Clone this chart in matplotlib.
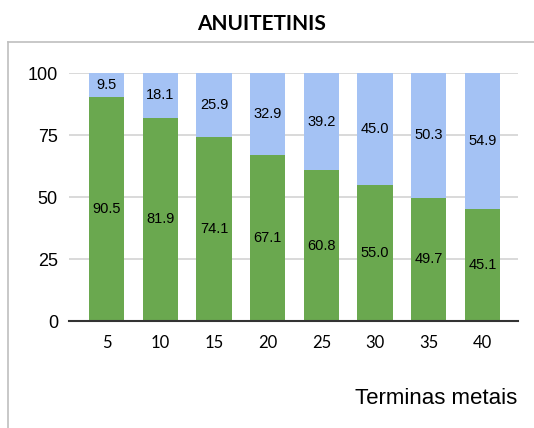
import numpy as np
import matplotlib
matplotlib.use("Agg")
import matplotlib.pyplot as plt
from matplotlib.lines import Line2D

terms = ["5", "10", "15", "20", "25", "30", "35", "40"]
principal = [90.5, 81.9, 74.1, 67.1, 60.8, 55.0, 49.7, 45.1]
interest = [9.5, 18.1, 25.9, 32.9, 39.2, 45.0, 50.3, 54.9]
y_ticks = [0, 25, 50, 75, 100]

green = "#6aa84f"
blue = "#a4c2f4"

fig = plt.figure(figsize=(5.34, 4.28), dpi=100)
ax = fig.add_axes([69 / 534, 1 - 321 / 428, (518 - 69) / 534, (321 - 73) / 428])

x = np.arange(len(terms))
w = 0.657
b1 = ax.bar(x, principal, width=w, color=green, zorder=2)
b2 = ax.bar(x, interest, width=w, bottom=principal, color=blue, zorder=2)

for rect, v in zip(b1, principal):
    ax.text(rect.get_x() + rect.get_width() / 2, v / 2, f"{v:.1f}",
            ha="center", va="center", fontsize=10.5, family="Liberation Sans", zorder=3)
for rect, v, b in zip(b2, interest, principal):
    ax.text(rect.get_x() + rect.get_width() / 2, b + v / 2, f"{v:.1f}",
            ha="center", va="center", fontsize=10.5, family="Liberation Sans", zorder=3)

ax.set_xlim(-0.70, len(terms) - 1 + 0.66)
ax.set_ylim(0, 100)
ax.set_yticks(y_ticks)
ax.set_yticklabels([str(t) for t in y_ticks], family="Liberation Sans", fontsize=13)
ax.set_xticks(x)
ax.set_xticklabels(terms, family="Lato", fontsize=12)
ax.tick_params(axis="y", length=0, pad=8)
ax.tick_params(axis="x", length=0, pad=10)
ax.yaxis.grid(True, color="#d3d3d3", linewidth=1.2, zorder=0)
ax.set_axisbelow(True)
for s in ["top", "right", "left"]:
    ax.spines[s].set_visible(False)
ax.spines["bottom"].set_color("#333333")
ax.spines["bottom"].set_linewidth(1.5)
ax.spines["bottom"].set_zorder(4)

fig.text(262 / 534, 1 - 24 / 428, "ANUITETINIS", ha="center", va="center",
         fontsize=15, fontweight="bold", family="Lato")
fig.text(517 / 534, 1 - 398 / 428, "Terminas metais", ha="right", va="center",
         fontsize=16, family="Liberation Sans")

# chart frame (left and top edges)
fig.add_artist(Line2D([8 / 534, 8 / 534], [0, 1 - 42 / 428], color="#bfbfbf", linewidth=1.2))
fig.add_artist(Line2D([8 / 534, 1], [1 - 42 / 428, 1 - 42 / 428], color="#bfbfbf", linewidth=1.2))

fig.savefig("out.png", dpi=100)
